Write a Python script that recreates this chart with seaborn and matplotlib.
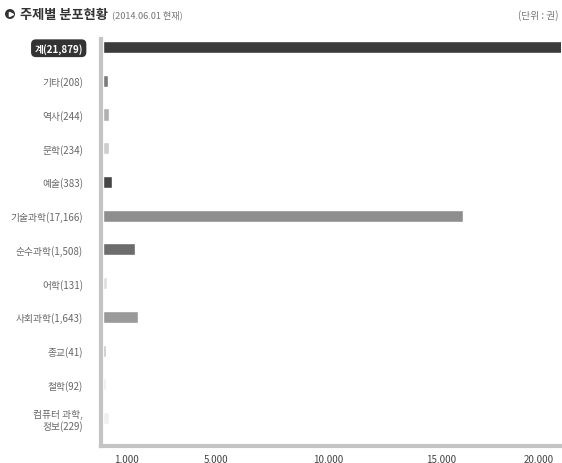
import matplotlib
matplotlib.use("Agg")
import matplotlib.pyplot as plt
import seaborn as sns
from matplotlib.patches import Ellipse
from matplotlib.lines import Line2D
from matplotlib.ticker import FuncFormatter

# Categories (tick labels as printed in the chart)
labels = ['계(21,879)', '기타(208)', '역사(244)', '문학(234)', '예술(383)',
          '기술과학(17,166)', '순수과학(1,508)', '어학(131)', '사회과학(1,643)',
          '종교(41)', '철학(92)', '컴퓨터 과학,\n정보(229)']
# Bar lengths as drawn in the picture
values = [21879, 200, 240, 230, 380, 15980, 1400, 140, 1540, 120, 90, 229]
bar_colors = ['#3b3b3b', '#7a7a7a', '#b0b0b0', '#cdcdcd', '#454545', '#8e8e8e',
              '#6c6c6c', '#dedede', '#9a9a9a', '#c8c8c8', '#f0f0f0', '#f0f0f0']
x_ticks = [1000, 5000, 10000, 15000, 20000]

sns.set_style('white')
plt.rcParams['font.family'] = ['Noto Sans CJK KR', 'DejaVu Sans']

fig = plt.figure(figsize=(5.62, 4.64), dpi=100)
ax = fig.add_axes([101 / 562, 17 / 464, 460 / 562, 407 / 464])

sns.barplot(x=values, y=labels, hue=labels, palette=bar_colors, legend=False,
            orient='h', width=0.36, ax=ax, saturation=1)

ax.set_xlim(-110, 20330)
ax.set_ylim(11.83, -0.24)
ax.set_xticks(x_ticks)
ax.xaxis.set_major_formatter(FuncFormatter(lambda v, _: f'{v:,.0f}'))
ax.tick_params(axis='x', direction='in', length=4, color='#e4e4e4',
               labelsize=7, labelcolor='#444444', pad=6)
ax.tick_params(axis='y', length=0, pad=13, labelsize=7, labelcolor='#666666')
ax.set_xlabel('')
ax.set_ylabel('')

for side in ['top', 'right']:
    ax.spines[side].set_visible(False)
for side in ['left', 'bottom']:
    ax.spines[side].set_color('#c4c4c4')
    ax.spines[side].set_linewidth(3)

# highlighted total label
first = ax.get_yticklabels()[0]
first.set_color('white')
first.set_fontweight('bold')
first.set_bbox(dict(boxstyle='round,pad=0.35,rounding_size=0.5', fc='#333333', ec='none'))

last_x = ax.get_xticklabels()[-1]
last_x.set_horizontalalignment('right')

# title row: round icon with a small arrow
ty = 1 - 15 / 464
fig.add_artist(Ellipse((10 / 562, ty), 10 / 562, 10 / 464,
                       transform=fig.transFigure, fc='#333333', ec='none'))
fig.add_artist(Line2D([10.5 / 562], [ty], marker='>', markersize=3,
                      color='white', transform=fig.transFigure))
fig.text(20 / 562, ty, '주제별 분포현황', fontsize=9.5, fontweight='bold',
         color='#333333', va='center')
fig.text(112 / 562, 1 - 15.5 / 464, '(2014.06.01 현재)', fontsize=6.6,
         color='#777777', va='center')
fig.text(558 / 562, 1 - 15.5 / 464, '(단위 : 권)', fontsize=7, color='#777777',
         va='center', ha='right')

plt.savefig('out.png', dpi=100)
